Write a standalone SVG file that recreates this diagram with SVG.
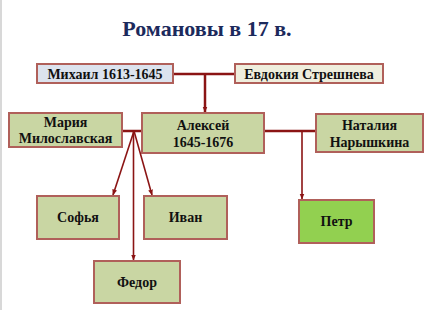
<svg xmlns="http://www.w3.org/2000/svg" width="430" height="310" viewBox="0 0 430 310">
<style>
.box{stroke:#b0605a;stroke-width:2}
.g{fill:#c9d6a3}
.t{font-family:"Liberation Serif","Times New Roman",serif;font-weight:bold;font-size:14px;fill:#111;text-anchor:middle}
.c{fill:none;stroke:#8b1414;stroke-width:2.5}
.a{fill:none;stroke:#8b1414;stroke-width:1.6;marker-end:url(#ah)}
</style>
<defs>
<marker id="ah" viewBox="0 0 10 10" refX="9" refY="5" markerWidth="6" markerHeight="6" orient="auto" markerUnits="userSpaceOnUse">
<path d="M0,1 L10,5 L0,9 Z" fill="#8b1414"/>
</marker>
</defs>
<rect width="430" height="310" fill="#fff"/>
<line x1="1" y1="0" x2="1" y2="310" stroke="#d8d8d8" stroke-width="2"/>
<text x="207" y="36" font-family="Liberation Serif,serif" font-weight="bold" font-size="22" fill="#1c2a5c" text-anchor="middle">Романовы в 17 в.</text>
<g id="connectors">
<line class="c" x1="173" y1="74" x2="235" y2="74"/>
<line class="a" x1="205" y1="74" x2="205" y2="112" style="stroke-width:2.5"/>
<line class="c" x1="122" y1="131" x2="142" y2="131"/>
<line class="a" x1="134" y1="131" x2="113" y2="195"/>
<line class="a" x1="134" y1="131" x2="152" y2="195"/>
<line class="a" x1="133.5" y1="131" x2="133.5" y2="260"/>
<line class="c" x1="264" y1="131" x2="316" y2="131"/>
<line class="a" x1="302" y1="131" x2="302" y2="199"/>
</g>
<g id="mikhail"><rect class="box" x="37" y="64" width="136" height="19" fill="#dce3ee"/><text class="t" x="105" y="78.5">Михаил 1613-1645</text></g>
<g id="evdokia"><rect class="box" x="235" y="64" width="148" height="19" fill="#efeedd"/><text class="t" x="309" y="78.5">Евдокия Стрешнева</text></g>
<g id="maria"><rect class="box g" x="9" y="113" width="113" height="34"/><text class="t" x="65.5" y="127">Мария</text><text class="t" x="65.5" y="143">Милославская</text></g>
<g id="aleksey"><rect class="box g" x="142" y="113" width="122" height="40"/><text class="t" x="203" y="130">Алексей</text><text class="t" x="203" y="147">1645-1676</text></g>
<g id="natalia"><rect class="box g" x="316" y="114" width="107" height="38"/><text class="t" x="369.5" y="130">Наталия</text><text class="t" x="369.5" y="147">Нарышкина</text></g>
<g id="sofia"><rect class="box g" x="37" y="196" width="82" height="43"/><text class="t" x="78" y="222">Софья</text></g>
<g id="ivan"><rect class="box g" x="144" y="196" width="83" height="43"/><text class="t" x="185.5" y="222">Иван</text></g>
<g id="petr"><rect class="box" x="299" y="200" width="75" height="43" fill="#92d050"/><text class="t" x="336.5" y="226">Петр</text></g>
<g id="fedor"><rect class="box g" x="94" y="261" width="86" height="42"/><text class="t" x="137" y="287">Федор</text></g>
</svg>
